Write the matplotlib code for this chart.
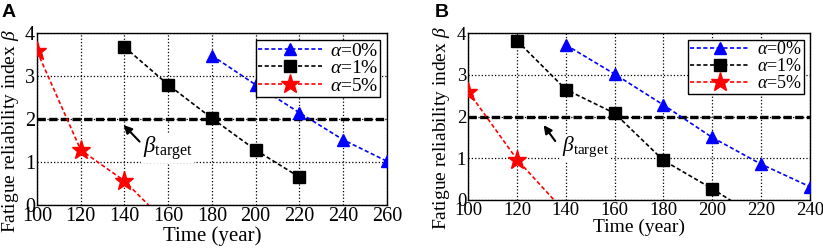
import numpy as np
import matplotlib
matplotlib.use('Agg')
import matplotlib.pyplot as plt

plt.rcParams['font.family'] = 'Liberation Serif'
plt.rcParams['mathtext.fontset'] = 'custom'
plt.rcParams['mathtext.rm'] = 'Liberation Serif'
plt.rcParams['mathtext.it'] = 'Liberation Serif:italic'

# panel A
a_t0 = [180, 200, 220, 240, 260]
a_b0 = [3.48, 2.80, 2.15, 1.52, 1.02]
a_t1 = [140, 160, 180, 200, 220]
a_b1 = [3.68, 2.80, 2.02, 1.28, 0.65]
a_t5 = [100, 120, 140, 160]
a_b5 = [3.58, 1.28, 0.56, -0.46]
a_xticks = [100, 120, 140, 160, 180, 200, 220, 240, 260]

# panel B
b_t0 = [140, 160, 180, 200, 220, 240]
b_b0 = [3.72, 3.02, 2.28, 1.50, 0.86, 0.32]
b_t1 = [120, 140, 160, 180, 200, 220]
b_b1 = [3.82, 2.65, 2.08, 0.95, 0.27, -0.47]
b_t5 = [100, 120, 140]
b_b5 = [2.60, 0.97, -0.31]
b_xticks = [100, 120, 140, 160, 180, 200, 220, 240]

beta_target = 2.0
labels = [r'$\alpha$=0%', r'$\alpha$=1%', r'$\alpha$=5%']

fig = plt.figure(figsize=(8.23, 2.5), dpi=100)
axA = fig.add_axes([0.045, 0.18, 0.425, 0.687])
axB = fig.add_axes([0.569, 0.20, 0.415, 0.667])


def panel(ax, series, xticks, arrow_xy, arrow_from, text_xy, tag, tag_x,
          fs, ylab_fs, ylab_xy):
    ax.set_xlim(xticks[0], xticks[-1])
    ax.set_ylim(0, 4)
    ax.set_xticks(xticks)
    ax.set_yticks([0, 1, 2, 3, 4])
    ax.grid(True, color='k', linestyle=':', linewidth=0.9)
    ax.set_axisbelow(True)
    ax.tick_params(length=0, labelsize=fs, pad=1.5)
    for s in ax.spines.values():
        s.set_linewidth(1.0)

    ax.axhline(beta_target, color='k', linestyle=(0, (2.5, 1)), linewidth=2.4, zorder=2)

    styles = [('b', '^', 9), ('k', 's', 8), ('r', '*', 14)]
    for (t, b), (c, m, ms), lab in zip(series, styles, labels):
        ax.plot(t, b, color=c, marker=m, markersize=ms, linestyle=(0, (2.5, 1.5)),
                linewidth=1.2, label=lab, zorder=3)

    leg = ax.legend(loc='upper right', fontsize=fs - 0.5, handlelength=3.3, handletextpad=0.4,
                    borderpad=0.1, labelspacing=0.0, borderaxespad=0.35,
                    fancybox=False, framealpha=1, edgecolor='k')
    leg.get_frame().set_linewidth(1.0)

    ax.annotate('', xy=arrow_xy, xytext=arrow_from,
                arrowprops=dict(arrowstyle='-|>', color='k', lw=1.5, mutation_scale=12),
                zorder=4)
    ax.text(text_xy[0], text_xy[1], r'$\beta_{\mathrm{target}}$', fontsize=fs + 2,
            ha='left', va='center', zorder=3,
            bbox=dict(facecolor='white', edgecolor='none', pad=1))

    ax.set_xlabel('Time (year)', fontsize=fs + 0.5, labelpad=0)
    ax.set_ylabel(r'Fatigue reliability index $\beta$', fontsize=ylab_fs)
    ax.yaxis.set_label_coords(*ylab_xy)
    fig.text(tag_x, 0.985, tag, fontsize=14, fontweight='bold', family='Liberation Sans',
             ha='left', va='top')


panel(axA, [(a_t0, a_b0), (a_t1, a_b1), (a_t5, a_b5)], a_xticks,
      (138.7, 1.91), (147.8, 1.43), (148.3, 1.33), 'A', 0.002,
      14.5, 14.0, (-0.045, 0.43))
panel(axB, [(b_t0, b_b0), (b_t1, b_b1), (b_t5, b_b5)], b_xticks,
      (130.2, 1.85), (136.3, 1.36), (138.6, 1.27), 'B', 0.528,
      13.5, 14.0, (-0.048, 0.43))

fig.savefig('out.png', dpi=100)
